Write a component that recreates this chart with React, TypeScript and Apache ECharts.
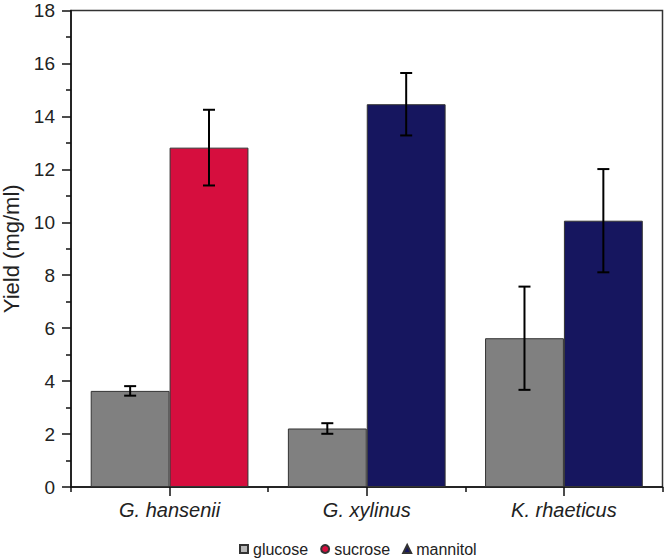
import React, { useEffect, useRef } from "react";
import * as echarts from "echarts";

const categories = ["G. hansenii", "G. xylinus", "K. rhaeticus"];
const glucose = [3.63, 2.21, 5.62];
const glucoseErr = [0.18, 0.2, 1.95];
const sucrose = [12.82, null, null];
const sucroseErr = [1.43, null, null];
const mannitol = [null, 14.46, 10.06];
const mannitolErr = [null, 1.18, 1.95];
const yTicks = { min: 0, max: 18, interval: 2 };

const FONT = "'Liberation Sans', Arial, Helvetica, sans-serif";

export default function App() {
  const ref = useRef<HTMLDivElement>(null);
  useEffect(() => {
    if (!ref.current) return;
    const chart = echarts.init(ref.current, null, { renderer: "svg" });

    const glucoseErrData = glucose.map((v, i) => [i, v, glucoseErr[i]]);
    const secondErrData: any[] = [];
    categories.forEach((_, i) => {
      if (sucrose[i] != null) secondErrData.push([i, sucrose[i], sucroseErr[i]]);
      else if (mannitol[i] != null) secondErrData.push([i, mannitol[i], mannitolErr[i]]);
    });

    const makeErr = (offset: number) => (params: any, api: any) => {
      const cat = api.value(0);
      const mean = api.value(1);
      const sd = api.value(2);
      const band = api.size([1, 0])[0];
      const x = api.coord([cat, mean])[0] + offset * band;
      const top = api.coord([cat, mean + sd])[1];
      const bot = api.coord([cat, mean - sd])[1];
      const cap = 6;
      const style = { stroke: "#000", lineWidth: 2 };
      return {
        type: "group",
        children: [
          { type: "line", shape: { x1: x, y1: top, x2: x, y2: bot }, style },
          { type: "line", shape: { x1: x - cap, y1: top, x2: x + cap, y2: top }, style },
          { type: "line", shape: { x1: x - cap, y1: bot, x2: x + cap, y2: bot }, style },
        ],
      };
    };

    const barBorder = { borderColor: "#333", borderWidth: 1 };

    chart.setOption({
      animation: false,
      textStyle: { fontFamily: FONT },
      grid: {
        left: 71,
        right: 3.5,
        top: 10.5,
        bottom: 72,
        containLabel: false,
        outerBoundsMode: "none",
        show: true,
        borderColor: "#333",
        borderWidth: 1.5,
        backgroundColor: "transparent",
      },
      legend: {
        left: 234,
        top: 536,
        itemWidth: 8,
        itemHeight: 8,
        itemGap: 12,
        textStyle: { fontSize: 16, color: "#222", fontFamily: FONT },
        data: [
          { name: "glucose", icon: "rect", itemStyle: { color: "#b8b8b8" } },
          { name: "sucrose", icon: "circle" },
          { name: "mannitol", icon: "triangle" },
        ],
      },
      xAxis: [
        {
          type: "category",
          data: categories,
          position: "bottom",
          axisLine: { show: true, lineStyle: { color: "#111", width: 1.5 } },
          axisTick: { show: true, alignWithLabel: true, length: 9, lineStyle: { color: "#111", width: 1.5 } },
          axisLabel: {
            fontSize: 20,
            fontStyle: "italic",
            color: "#222",
            fontFamily: FONT,
            margin: 13,
          },
          splitLine: { show: false },
        },
        {
          type: "category",
          data: categories,
          position: "bottom",
          axisLine: { show: false },
          axisTick: { show: true, length: 5, lineStyle: { color: "#111", width: 1.5 } },
          axisLabel: { show: false },
          splitLine: { show: false },
        },
      ],
      yAxis: {
        type: "value",
        min: yTicks.min,
        max: yTicks.max,
        interval: yTicks.interval,
        name: "Yield (mg/ml)",
        nameLocation: "middle",
        nameGap: 40,
        nameTextStyle: { fontSize: 22, color: "#222", fontFamily: FONT },
        axisLine: { show: true, lineStyle: { color: "#111", width: 1.5 } },
        axisTick: { show: true, length: 9, lineStyle: { color: "#111", width: 1.5 } },
        minorTick: { show: true, splitNumber: 2, length: 5, lineStyle: { color: "#111", width: 1.5 } },
        axisLabel: { fontSize: 19, color: "#222", fontFamily: FONT, margin: 16 },
        splitLine: { show: false },
      },
      series: [
        {
          name: "glucose",
          type: "bar",
          xAxisIndex: 0,
          data: glucose,
          barGap: 0,
          barCategoryGap: "20%",
          itemStyle: { color: "#808080", ...barBorder },
        },
        {
          name: "sucrose",
          type: "bar",
          stack: "second",
          xAxisIndex: 0,
          data: sucrose,
          barGap: 0,
          barCategoryGap: "20%",
          itemStyle: { color: "#D60E3E", ...barBorder },
        },
        {
          name: "mannitol",
          type: "bar",
          stack: "second",
          xAxisIndex: 0,
          data: mannitol,
          barGap: 0,
          barCategoryGap: "20%",
          itemStyle: { color: "#16165F", ...barBorder },
        },
        {
          type: "custom",
          name: "err1",
          xAxisIndex: 0,
          renderItem: makeErr(-0.2),
          data: glucoseErrData,
          encode: { x: 0, y: 1 },
          z: 10,
          silent: true,
        },
        {
          type: "custom",
          name: "err2",
          xAxisIndex: 0,
          renderItem: makeErr(0.2),
          data: secondErrData,
          encode: { x: 0, y: 1 },
          z: 10,
          silent: true,
        },
      ],
    });
    return () => chart.dispose();
  }, []);
  return (
    <div
      ref={ref}
      style={{ position: "fixed", left: 0, top: 0, width: 666, height: 559, background: "#fff" }}
    />
  );
}
